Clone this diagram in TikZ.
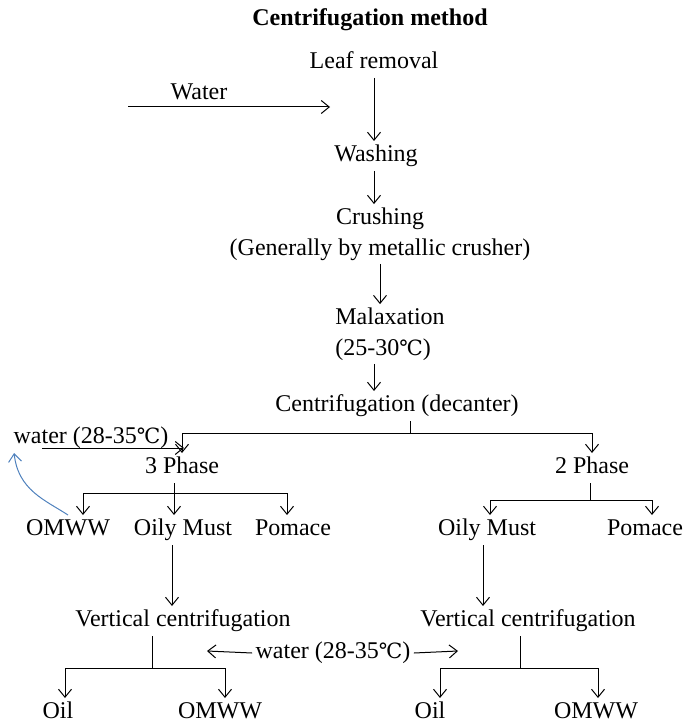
\documentclass[tikz,border=0pt]{standalone}
\usepackage{fontspec}
\setmainfont{Liberation Serif}
\newfontfamily\degfont{DejaVu Serif}
\newcommand{\degC}{{\degfont\fontsize{10.5}{13}\selectfont ℃}}
\usetikzlibrary{arrows.meta}

\tikzset{every picture/.style={line width=0.5pt}}
\tikzset{
  txt/.style={inner sep=1.5pt, text height=8.5pt, text depth=3pt, font=\fontsize{12}{15.5}\selectfont},
  txtblock/.style={inner sep=1.5pt, font=\fontsize{12}{15.5}\selectfont},
  arr/.style={-{Straight Barb[length=4pt,width=6.5pt]}},
}

\begin{document}
\begin{tikzpicture}[x=0.5pt,y=0.5pt,yscale=-1,xscale=1]
		\path[use as bounding box] (0,0) rectangle (686,726);

		% Text Node
		\node[txt, font=\fontsize{12}{15.5}\selectfont\bfseries] (title) at (370,20) {Centrifugation method};
		% Text Node
		\node[txt] (leaf) at (374,63) {Leaf removal};
		% Text Node
		\node[txt] (wtop) at (199,94) {Water};
		% Text Node
		\node[txt] (wash) at (376,156) {Washing};
		% Text Node
		\node[txtblock, align=center] (crush) at (380,234) {Crushing\\(Generally by metallic crusher)};
		% Text Node
		\node[txtblock, align=left] (malax) at (390,334) {Malaxation\\(25-30\degC)};
		% Text Node
		\node[txt] (decant) at (397,406) {Centrifugation (decanter)};
		% Text Node
		\node[txt] (w1) at (91,438) {water (28-35\degC)};
		% Text Node
		\node[txt] (ph3) at (182,468) {3 Phase};
		% Text Node
		\node[txt] (ph2) at (592,468) {2 Phase};
		% Text Node
		\node[txt] (omww1) at (68,530) {OMWW};
		% Text Node
		\node[txt] (oily1) at (183,530) {Oily Must};
		% Text Node
		\node[txt] (pom1) at (293,530) {Pomace};
		% Text Node
		\node[txt] (oily2) at (487,530) {Oily Must};
		% Text Node
		\node[txt] (pom2) at (645,530) {Pomace};
		% Text Node
		\node[txt] (vc1) at (183,621) {Vertical centrifugation};
		% Text Node
		\node[txt] (vc2) at (528,621) {Vertical centrifugation};
		% Text Node
		\node[txt] (w2) at (333,653) {water (28-35\degC)};
		% Text Node
		\node[txt] (oil1) at (58,713) {Oil};
		% Text Node
		\node[txt] (omww2) at (220,713) {OMWW};
		% Text Node
		\node[txt] (oil2) at (430,713) {Oil};
		% Text Node
		\node[txt] (omww3) at (596,713) {OMWW};

		% Branch points
		\coordinate (wtail) at (128,107);
		\coordinate (whead) at (330,107);
		\coordinate (w1tail) at (42,448);
		\coordinate (w1head) at (184,448);
		\coordinate (w2l) at (207,651);
		\coordinate (w2r) at (458,651);
		\coordinate (cj) at (410,433);
		\coordinate (p3j) at (174,493);
		\coordinate (p3l) at (83,493);
		\coordinate (p3r) at (287,493);
		\coordinate (p2j) at (590,500);
		\coordinate (p2l) at (490,500);
		\coordinate (p2r) at (652,500);
		\coordinate (v1j) at (152,668);
		\coordinate (v1l) at (65,668);
		\coordinate (v1r) at (225,668);
		\coordinate (v2j) at (520,668);
		\coordinate (v2l) at (440,668);
		\coordinate (v2r) at (598,668);

		%Straight Lines
		\draw[arr] (leaf.south -| leaf) -- (leaf |- wash.north);
		\draw[arr] (wtail) -- (whead);
		\draw[arr] (leaf |- wash.south) -- (leaf |- crush.north);
		\draw[arr] (crush.south) -- (crush.south |- malax.north);
		\draw[arr] (leaf |- malax.south) -- (leaf |- decant.north);
		%Straight Lines
		\draw (decant.south -| cj) -- (cj);
		\draw[arr] (cj) -| (ph3);
		\draw[arr] (cj) -| (ph2);
		\draw[arr] (w1tail) -- (w1head);
		%Straight Lines
		\draw (ph3.south -| p3j) -- (p3j);
		\draw (p3l) -- (p3r);
		\draw[arr] (p3l) -- (p3l |- omww1.north);
		\draw[arr] (p3j) -- (p3j |- oily1.north);
		\draw[arr] (p3r) -- (p3r |- pom1.north);
		%Straight Lines
		\draw (ph2.south -| p2j) -- (p2j);
		\draw (p2l) -- (p2r);
		\draw[arr] (p2l) -- (p2l |- oily2.north);
		\draw[arr] (p2r) -- (p2r |- pom2.north);
		%Straight Lines
		\draw[arr] ([xshift=-5.5pt]oily1.south) -- ([xshift=-5.5pt]oily1.south |- vc1.north);
		\draw[arr] ([xshift=-2pt]oily2.south) -- ([xshift=-2pt]oily2.south |- vc2.north);
		%Straight Lines
		\draw (vc1.south -| v1j) -- (v1j);
		\draw (v1l) -- (v1r);
		\draw[arr] (v1l) -- (v1l |- oil1.north);
		\draw[arr] (v1r) -- (v1r |- omww2.north);
		\draw (vc2.south -| v2j) -- (v2j);
		\draw (v2l) -- (v2r);
		\draw[arr] (v2l) -- (v2l |- oil2.north);
		\draw[arr] (v2r) -- (v2r |- omww3.north);
		\draw[arr] (w2.west) -- (w2l);
		\draw[arr] (w2.east) -- (w2r);
		%Curve Lines
		\draw[arr, draw={rgb, 255:red, 79; green, 129; blue, 189 }] (omww1.north) .. controls (45,500) and (18,490) .. ([xshift=2pt]w1.south west);

\end{tikzpicture}
\end{document}
